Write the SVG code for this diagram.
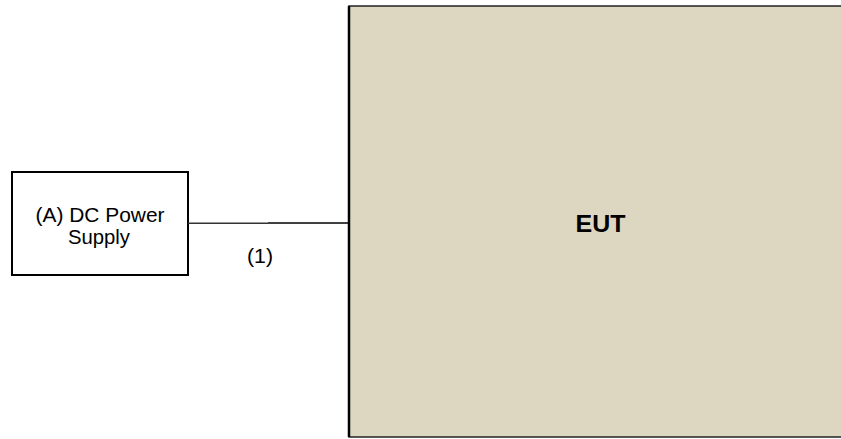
<svg xmlns="http://www.w3.org/2000/svg" width="841" height="439" viewBox="0 0 841 439">
<style>
.lbl{font-family:"Liberation Sans",Arial,sans-serif;fill:#000;text-anchor:middle}
.box{fill:#fff;stroke:#000;stroke-width:2}
.wire{stroke:#000;stroke-width:1.6;fill:none}
</style>
<rect width="841" height="439" fill="#fff"/>
<g id="eut">
<rect x="349" y="6" width="495" height="431" fill="#DDD7C1" stroke="#222" stroke-width="1.5"/>
<line x1="349" y1="6" x2="349" y2="437" stroke="#000" stroke-width="2.5"/>
<text class="lbl" x="600.5" y="232" font-size="23" font-weight="bold" textLength="50" lengthAdjust="spacingAndGlyphs">EUT</text>
</g>
<g id="psu">
<rect class="box" x="12" y="172" width="176" height="103"/>
<text class="lbl" x="100" y="222" font-size="19.5" textLength="129" lengthAdjust="spacingAndGlyphs">(A) DC Power</text>
<text class="lbl" x="99" y="244" font-size="19.5" textLength="62" lengthAdjust="spacingAndGlyphs">Supply</text>
</g>
<g id="connectors">
<line x1="188" y1="223.3" x2="268" y2="223.3" stroke="#333" stroke-width="1.4"/>
<line x1="268" y1="223" x2="348" y2="223" class="wire"/>
<text class="lbl" x="260" y="263" font-size="19.5" textLength="26" lengthAdjust="spacingAndGlyphs">(1)</text>
</g>
</svg>
